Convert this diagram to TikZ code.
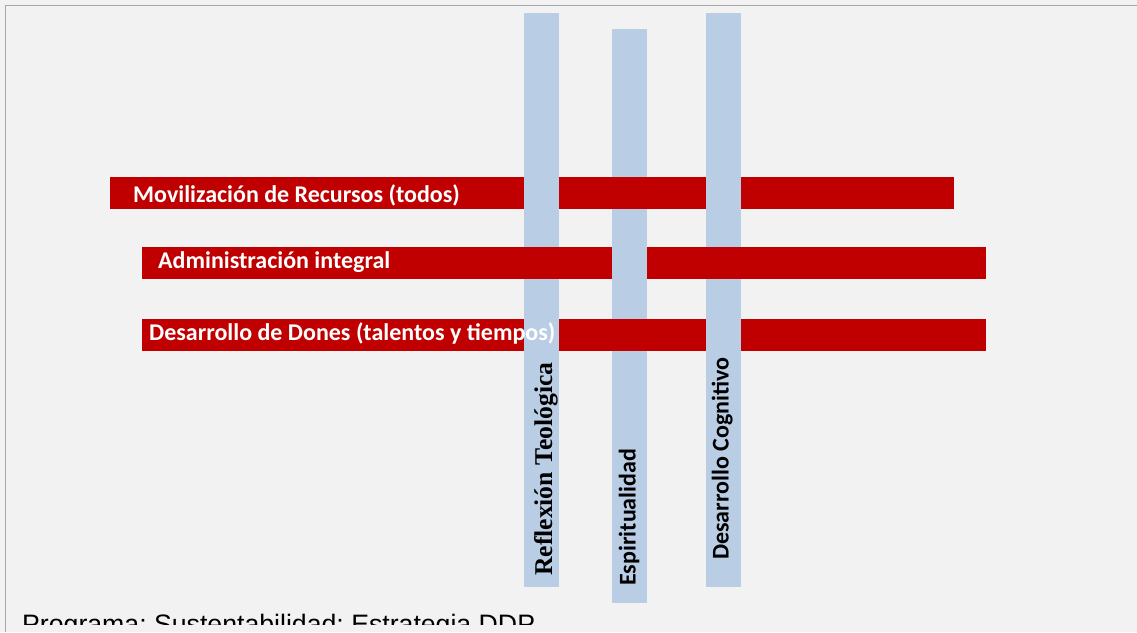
\documentclass[tikz,border=0pt]{standalone}
\usepackage{fontspec}
\newfontfamily\calibri{Carlito}
\newfontfamily\tnr{Liberation Serif}
\newfontfamily\arialf{Liberation Sans}
\definecolor{bgcol}{HTML}{F2F2F2}
\definecolor{framecol}{HTML}{A6A6A6}
\definecolor{barred}{HTML}{C00000}
\definecolor{barblue}{HTML}{B9CDE5}
\frenchspacing
\begin{document}
\begin{tikzpicture}[x=1pt,y=-1pt,
  redbar/.style={fill=barred,draw=none},
  bluebar/.style={fill=barblue,draw=none},
  redlabel/.style={inner sep=0pt,anchor=base west,text=white,font=\calibri\bfseries\fontsize{24}{28}\selectfont},
  vlabel/.style={inner sep=0pt,anchor=base west,rotate=90,text=black,font=\calibri\bfseries\fontsize{24}{28}\selectfont},
  vlabelserif/.style={inner sep=0pt,anchor=base west,rotate=90,text=black,font=\tnr\bfseries\fontsize{25.6}{30}\selectfont}]
\useasboundingbox (0,0) rectangle (1137,632);
\fill[bgcol] (0,0) rectangle (1137,632);
\draw[framecol,line width=1.5pt] (5.5,632) -- (5.5,5.5) -- (1137,5.5);
% vertical bar 2 (under red 1 and red 3)
\path[bluebar] (612,29) rectangle (647,603);
% red bars 1 and 3
\path[redbar] (110,177) rectangle (954,209);
\path[redbar] (142,319) rectangle (986,351);
% vertical bars 1 and 3 (over red 1 and red 3)
\path[bluebar] (524,13) rectangle (559,587);
\path[bluebar] (706,13) rectangle (741,587);
% red bar 2 (over blue 1 and blue 3)
\path[redbar] (142,247) rectangle (986,279);
% blue 2 over red 2
\path[bluebar] (612,247) rectangle (647,279);
% labels
\node[redlabel] (l1) at (133,202) {Movilización de Recursos (todos)};
\node[redlabel] (l2) at (158,268.5) {Administración integral};
\node[redlabel] (l3) at (149,340.5) {Desarrollo de Dones (talentos y tiempos)};
\node[vlabelserif] (v1) at (552,576) {Reflexión Teológica};
\node[vlabel] (v2) at (635.5,586) {Espiritualidad};
\node[vlabel] (v3) at (728.5,560) {Desarrollo Cognitivo};
\begin{scope}
\clip (0,0) rectangle (1137,624);
\node[inner sep=0pt,anchor=base west,font=\arialf\fontsize{26.67}{32}\selectfont] (prog) at (22,633) {Programa: Sustentabilidad: Estrategia DDP};
\end{scope}
\end{tikzpicture}
\end{document}
